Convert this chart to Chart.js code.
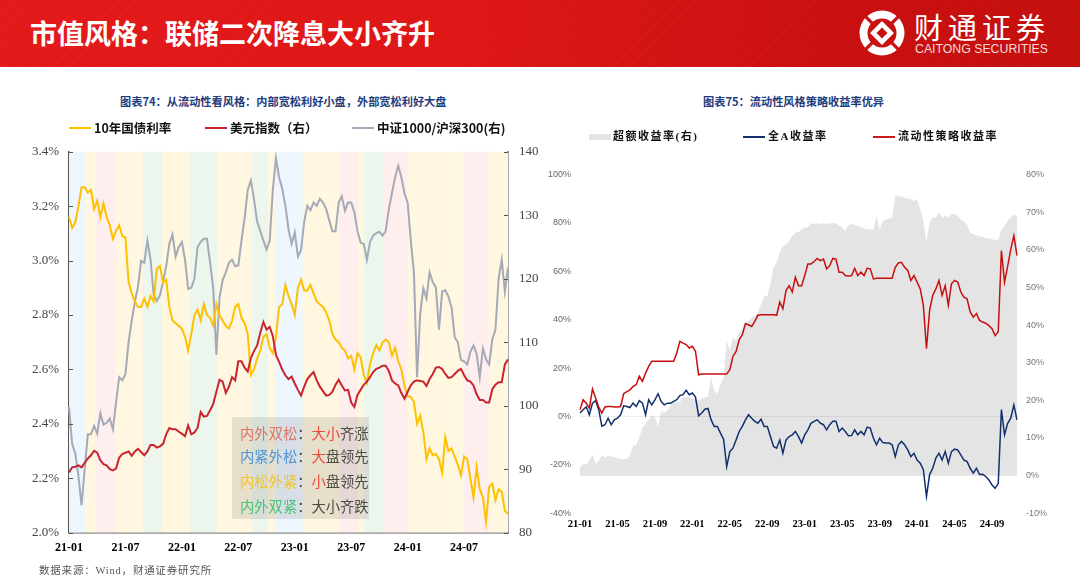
<!DOCTYPE html>
<html>
<head>
<meta charset="utf-8">
<script src="https://cdn.jsdelivr.net/npm/chart.js@4"></script>
<style>
    html, body { margin: 0; padding: 0; background: #fff; }
    body { position: relative; width: 1080px; height: 582px; overflow: hidden; font-family: "Noto Sans CJK SC", sans-serif; }
    canvas { position: absolute; }
    .abs { position: absolute; white-space: nowrap; }
    #header { left: 0; top: 0; width: 1080px; height: 67px; background:
        repeating-linear-gradient(135deg, rgba(255,255,255,.025) 0 1px, transparent 1px 12px),
        linear-gradient(90deg, #e41a1a 0%, #dd1616 45%, #c81010 80%, #c60f0f 100%); }
    #pageTitle { left: 30px; top: 13px; font-size: 27px; line-height: 40px; font-weight: 700; color: #fff; }
    #logoCn { left: 914px; top: 9px; font-size: 29px; line-height: 34px; letter-spacing: 5px; color: #fff; }
    #logoEn { left: 915px; top: 41px; font: 12.3px/17px "Liberation Sans", sans-serif; color: #f5dada; }
    .chartTitle { font-size: 11.2px; line-height: 16px; font-weight: 700; color: #1f3c7c; top: 93px; }
    .lg { font-size: 12.5px; line-height: 18px; font-weight: 700; color: #111; top: 119px; }
    .lgRight { font: 700 11px/16px "Liberation Serif", "Noto Sans CJK SC", serif; letter-spacing: 1.5px; color: #111; top: 128px; }
    .key { height: 2px; }
    #source { left: 39px; top: 563px; font: 10.5px/16px "Liberation Serif", "Noto Sans CJK SC", serif; letter-spacing: .8px; color: #555; }
    #regimeBox { left: 232px; top: 417px; width: 137px; height: 102px; background: rgba(100,100,100,.16); }
    .rg { left: 240px; font-size: 14.3px; line-height: 22px; color: #4d4a40; }
    .rd { color: #f2483a; }
</style>
</head>
<body>
<div id="header" class="abs"></div>
<div id="pageTitle" class="abs">市值风格：联储二次降息大小齐升</div>
<svg class="abs" style="left:858px;top:9px" width="48" height="48" viewBox="-24 -24 48 48">
    <circle r="22.5" fill="#fff"/>
    <circle r="14.5" fill="#ca1111"/>
    <path d="M-24 -24L24 24M24 -24L-24 24" stroke="#ca1111" stroke-width="3.2"/>
    <path d="M0 -12L12 0L0 12L-12 0Z" fill="#fff"/>
    <path d="M0 -5.5L5.5 0L0 5.5L-5.5 0Z" fill="#ca1111"/>
</svg>
<div id="logoCn" class="abs">财通证券</div>
<div id="logoEn" class="abs">CAITONG SECURITIES</div>

<canvas id="leftChart" width="540" height="449" style="left:0;top:133px;width:540px;height:449px"></canvas>
<canvas id="rightChart" width="540" height="400" style="left:540px;top:160px;width:540px;height:400px"></canvas>

<div class="abs chartTitle" style="left:120px">图表74：从流动性看风格：内部宽松利好小盘，外部宽松利好大盘</div>
<div class="abs chartTitle" style="left:703px">图表75：流动性风格策略收益率优异</div>

<div class="abs key" style="left:69px;top:127px;width:22px;background:#ffc000"></div>
<div class="abs lg" style="left:94px">10年国债利率</div>
<div class="abs key" style="left:205px;top:127px;width:22px;background:#c8252f"></div>
<div class="abs lg" style="left:230px">美元指数（右）</div>
<div class="abs key" style="left:352px;top:127px;width:22px;background:#a5a9b8"></div>
<div class="abs lg" style="left:377px">中证1000/沪深300(右)</div>

<div class="abs" style="left:589px;top:134px;width:22px;height:6px;background:#e4e4e4"></div>
<div class="abs lgRight" style="left:613px">超额收益率(右)</div>
<div class="abs key" style="left:743px;top:136px;width:22px;background:#12306e"></div>
<div class="abs lgRight" style="left:768px">全A收益率</div>
<div class="abs key" style="left:873px;top:136px;width:22px;background:#cc1a1a"></div>
<div class="abs lgRight" style="left:898px">流动性策略收益率</div>

<div id="regimeBox" class="abs"></div>
<div class="abs rg" style="top:422px"><span style="color:#db7468">内外双松</span>：<span class="rd">大小</span>齐涨</div>
<div class="abs rg" style="top:445px"><span style="color:#4b93d4">内紧外松</span>：<span class="rd">大</span>盘领先</div>
<div class="abs rg" style="top:470px"><span style="color:#f2c326">内松外紧</span>：<span class="rd">小</span>盘领先</div>
<div class="abs rg" style="top:495px"><span style="color:#47c377">内外双紧</span>：大小齐跌</div>

<div id="source" class="abs">数据来源：Wind，财通证券研究所</div>

<script>
// 3 samples a month, 21-01 .. 24-11
const sampleDates = [];
for (let y = 21; y <= 24; y++) {
    for (let m = 1; m <= (y === 24 ? 11 : 12); m++) {
        const label = y + '-' + String(m).padStart(2, '0');
        sampleDates.push(label, label, label);
    }
}

const yieldRate = [3.16,3.12,3.14,3.20,3.27,3.27,3.25,3.26,3.19,3.22,3.16,3.21,3.16,3.13,3.08,3.11,3.13,3.09,3.085,2.92,2.88,2.85,2.83,2.83,2.86,2.83,2.87,2.85,2.97,2.98,2.92,2.93,2.83,2.78,2.77,2.76,2.75,2.72,2.67,2.73,2.80,2.82,2.78,2.84,2.80,2.79,2.76,2.84,2.80,2.78,2.76,2.75,2.78,2.83,2.84,2.79,2.77,2.73,2.58,2.60,2.64,2.67,2.72,2.73,2.68,2.66,2.72,2.83,2.84,2.91,2.87,2.84,2.80,2.90,2.93,2.89,2.89,2.91,2.88,2.85,2.84,2.83,2.81,2.78,2.73,2.71,2.70,2.68,2.67,2.64,2.65,2.60,2.66,2.645,2.58,2.55,2.62,2.66,2.69,2.67,2.70,2.71,2.70,2.65,2.68,2.63,2.60,2.54,2.50,2.50,2.48,2.40,2.43,2.37,2.27,2.31,2.285,2.29,2.27,2.22,2.35,2.30,2.31,2.28,2.25,2.21,2.28,2.27,2.20,2.13,2.24,2.16,2.13,2.04,2.17,2.18,2.12,2.16,2.15,2.08,2.07];
const dollarIndex = [89.5,90.3,90.4,90.6,90.3,91,91.7,92.2,92.9,92.6,91.4,90.8,90.6,90,89.8,90.1,91.8,92.4,92.6,92.8,92.1,92.8,93.2,92.7,92.2,92.8,93.8,93.8,93.4,93.6,94,95.5,96.5,96.3,96.3,95.9,95.6,95.2,96.9,95.5,95.8,96.5,99,98.3,98.4,99.3,100.3,102.2,104.1,103.8,102,103,104.5,104,107,107,106,105.4,107.5,108.6,109.5,111.5,113.2,112,112.4,111,108,106.9,105.7,104.8,104.2,104.6,103.5,102.5,101.6,103,104.2,104.8,105.3,104,103,102.3,101.6,101.7,102.2,103.3,104.1,103.2,102.4,102.5,100.5,99.8,101.7,102.5,103.3,103.8,104.5,105.3,105.8,106,106.3,106.3,105.5,104,103.5,103.2,102,101.1,102.2,103.2,103.8,104,103.9,103.8,103.1,104.2,105,106,106.1,105.8,105,104.4,104.5,105,105.5,105.8,104.8,104,103.8,103.2,101.8,100.9,100.9,100.5,100.5,102.6,103.3,103.7,103.7,106.5,107.3];
const csi1000Ratio = [99.8,94,92.5,89,84.3,90,95.5,95.5,96.8,95.6,98.8,97,97.3,98,96.3,100.5,104.5,104,105,110,113.4,116.3,118.8,122.8,122.5,126,123,117.5,116.5,117.4,119.5,122,125.5,127,123.5,125,125.8,123,118.4,118.6,120,125,125.8,126.3,126.3,122.5,118.5,108,117,119.8,121,122.5,123,122,122.1,126,129.5,134,135.5,132.5,129,127.5,126,124.6,126,134,139,136,134.2,131.5,127.8,125.5,127.3,123.5,124.5,129,131.5,130.8,132,131.5,132.6,132,131,129.2,127.5,127.5,132,133,130.7,132,132,130.5,127.5,125.7,125.5,123,125.8,126.8,127.2,127.4,126.8,127.5,131,133.5,136,137.8,136,133.4,132,126,121,104.5,114.5,118.5,116.9,121,119.5,118.6,112,118,118.2,117.2,115.5,110.8,110,107.2,107,106.5,108.5,109.5,108.2,104.5,109,107.3,106.5,110.5,112,120,123,118,121.8];

const excessReturn = [2.2,3.1,3.1,4,5.6,3.1,4,5.3,4.9,5.3,5.1,4.9,4.6,4.4,4.4,4.4,5.3,8,8,10.2,12.8,13.7,15,16,15.5,12.8,17.3,16.8,17.3,18.6,19.5,19.5,19.5,20.8,20.8,20.8,20.4,20.4,19.9,20.4,20.8,21,26.1,22.6,21.7,24.3,26,35.8,33.2,36.7,35.8,38,39,41,41,42,42.4,43.3,45.5,47.7,47.7,50.8,55.3,56.6,59.2,61,61.4,62.3,63.7,64.5,64.7,65.4,65.9,65.9,67,66.8,67,66.8,67,66.8,67,67,67,66.3,65.9,65,66.5,66.8,66.6,66.3,65.9,65.6,65.4,65.4,65.3,69,65.3,67.6,68,68.3,68.5,74.3,74.3,74.1,73.8,73.6,73.4,72.9,73.4,70.7,67.6,61.9,67.2,68.5,68.5,70,68.5,69,68.5,69.4,69.4,69,68,67.4,66.5,64.5,64.1,63.8,63.6,63.4,63.1,63,62.8,62.6,62.5,65.4,66.3,67.6,68.5,69.4,68.8];
const allAReturn = [1.4,2.8,4,0.7,5.5,6.5,2.8,-4,-3.4,-0.7,-3.4,-1.4,-0.7,0.7,4.4,4.1,3.7,5.5,4.1,6.5,5.5,0.7,6.9,4.8,6.9,9.4,6.2,4.8,5.5,5.5,6.2,6.9,8.6,9,10.8,9,9.7,8,0.3,1.4,3,3.3,-1.4,-4.1,-4.1,-6.9,-9.4,-20.7,-14.5,-13.1,-9.7,-6.2,-4.1,-1.4,0.7,-0.7,-2,-2.8,-1.1,-4.1,-4.1,-8.3,-12.4,-13.1,-9.7,-15.2,-9.7,-8.3,-7.6,-6.2,-8.3,-11,-7.6,-5.5,-2.8,-2,-1.4,-2.8,-3.4,-5.5,-3.4,-2,-2,-6.2,-4.8,-6.2,-8,-7.9,-5.5,-7.6,-6.2,-7.6,-4.4,-4.8,-9,-11.7,-9,-10.8,-11,-11,-11.7,-16.6,-11.7,-10.3,-11.7,-13.8,-16.6,-15.2,-18,-19.3,-22,-33,-24,-21.4,-17.2,-15.2,-18,-14.5,-19.3,-14.5,-13.5,-13.8,-15.9,-18,-18.6,-21.4,-23.4,-21.4,-24,-23.9,-24.8,-26.2,-28.3,-29.7,-27.6,2.8,-7.6,-2.8,-0.7,4.8,-1.4];
const strategyReturn = [2.8,6.9,5.5,3.4,11.3,7.6,3.9,1.4,3.9,4.1,4.1,3.9,3.9,4.1,9.4,10.3,11,12.4,13.1,16.6,14.5,17.9,20.7,22.8,22.8,22.8,22.8,22.8,22.8,22.8,22.8,26.2,31,30.3,29.7,28.3,29,26.9,17.2,17.5,17.5,17.5,17.5,17.5,17.5,17.5,17.5,17.5,19.3,24.8,26.9,31.7,33.8,38.3,37.9,37.2,39.3,41.8,42,42,42,42,42,41.8,47.3,44.5,52,54,51.4,57.5,54,54,58.2,63,63,64,65.3,64.4,65,61,62.3,65.3,65,59.6,59.6,58.2,58,58.2,61.2,58.2,59.6,58.2,61.2,61,56.8,57.1,57.1,57.1,57.1,57.1,57.1,61.6,63.4,63.7,61.6,60.3,56.2,58.2,55.5,52.7,45.9,28,43.8,50,52.7,56.2,50,54,45.9,54.8,56.2,55.5,51.4,49.3,48.6,43.2,41,42.5,39.7,39,38.5,37.5,36.3,33.4,35,68.5,55.5,62,69,74.7,66.4];

// background regimes, in sample positions
const bandStarts = [0,5.3,8.3,14.7,23.6,29.7,38.6,47.2,58.4,63.5,65.7,74.5,86.1,92.2,93.9,100.4,107.8,125.6,134];
const bandEnds = [5.3,8.3,14.7,23.6,29.7,38.6,47.2,58.4,63.5,65.7,74.5,86.1,92.2,93.9,100.4,107.8,125.6,134,140];
const bandKinds = ['blue','yellow','red','yellow','green','yellow','green','yellow','green','yellow','blue','yellow','red','yellow','green','red','yellow','red','yellow'];
const bandColors = { blue: '#eef6fe', yellow: '#fff7e0', red: '#ffeeee', green: '#edf6ec' };

const leftTickStep = 18;
const rightTickStep = 12;

const bandPlugin = {
    id: 'bands',
    beforeDatasetsDraw(chart) {
        const { ctx, chartArea, scales } = chart;
        ctx.save();
        bandStarts.forEach((start, i) => {
            const x0 = scales.x.getPixelForValue(start);
            const x1 = scales.x.getPixelForValue(bandEnds[i]);
            ctx.fillStyle = bandColors[bandKinds[i]];
            ctx.fillRect(x0, chartArea.top, x1 - x0, chartArea.height);
        });
        ctx.restore();
    }
};

// tick marks point into the plot on the left chart
const innerTickPlugin = {
    id: 'innerTicks',
    afterDraw(chart) {
        const { ctx, chartArea, scales } = chart;
        ctx.save();
        ctx.strokeStyle = '#555';
        ctx.lineWidth = 1;
        scales.y.ticks.forEach(t => {
            const p = Math.round(scales.y.getPixelForValue(t.value)) + .5;
            ctx.beginPath(); ctx.moveTo(chartArea.left, p); ctx.lineTo(chartArea.left + 4, p); ctx.stroke();
        });
        scales.y2.ticks.forEach(t => {
            const p = Math.round(scales.y2.getPixelForValue(t.value)) + .5;
            ctx.beginPath(); ctx.moveTo(chartArea.right, p); ctx.lineTo(chartArea.right - 4, p); ctx.stroke();
        });
        ctx.restore();
    }
};

function lineSet(label, data, color, width, axis, order) {
    return { label, data, borderColor: color, borderWidth: width, pointRadius: 0, tension: 0, yAxisID: axis, order, fill: false };
}

function xAxis(step, font, padding, height) {
    return {
        type: 'category',
        offset: false,
        grid: { display: false, drawTicks: false },
        afterBuildTicks: s => { s.ticks = s.ticks.filter(t => t.value % step === 0); },
        afterFit: s => { s.height = height; },
        ticks: {
            autoSkip: false, maxRotation: 0, color: '#000', font, padding,
            callback(value) { return sampleDates[value]; }
        }
    };
}

new Chart(document.getElementById('leftChart').getContext('2d'), {
    type: 'line',
    plugins: [bandPlugin, innerTickPlugin],
    data: {
        labels: sampleDates,
        datasets: [
            lineSet('中证1000/沪深300(右)', csi1000Ratio, '#a5a9b8', 2, 'y2', 3),
            lineSet('10年国债利率', yieldRate, '#ffc000', 2, 'y', 2),
            lineSet('美元指数（右）', dollarIndex, '#c8252f', 2, 'y2', 1)
        ]
    },
    options: {
        responsive: false,
        animation: false,
        devicePixelRatio: 1,
        layout: { padding: 0 },
        plugins: { legend: { display: false }, title: { display: false }, tooltip: { enabled: false } },
        scales: {
            x: Object.assign(xAxis(leftTickStep, { family: 'Liberation Serif', size: 12, weight: 'bold' }, 8, 49.3), {
                border: { color: '#555', width: 1.5 }
            }),
            y: {
                position: 'left', min: 2.0, max: 3.4,
                border: { color: '#555', width: 1.5 },
                grid: { display: false, drawTicks: false },
                afterFit: s => { s.width = 69; },
                ticks: {
                    stepSize: 0.2, padding: 10, color: '#444',
                    font: { family: 'Liberation Serif', size: 13 },
                    callback: v => v.toFixed(1) + '%'
                }
            },
            y2: {
                position: 'right', min: 80, max: 140,
                border: { color: '#555', width: 1.5 },
                grid: { display: false, drawTicks: false },
                afterFit: s => { s.width = 32; },
                ticks: {
                    stepSize: 10, padding: 11, color: '#444',
                    font: { family: 'Liberation Serif', size: 13 }
                }
            }
        }
    }
});

new Chart(document.getElementById('rightChart').getContext('2d'), {
    type: 'line',
    data: {
        labels: sampleDates,
        datasets: [
            { label: '超额收益率(右)', data: excessReturn, borderWidth: 0, borderColor: '#e4e4e4', backgroundColor: '#e4e4e4',
              pointRadius: 0, tension: 0, yAxisID: 'y2', order: 3, fill: { value: 0 } },
            lineSet('全A收益率', allAReturn, '#12306e', 1.5, 'y', 2),
            lineSet('流动性策略收益率', strategyReturn, '#c80f0f', 1.5, 'y', 1)
        ]
    },
    options: {
        responsive: false,
        animation: false,
        devicePixelRatio: 1,
        layout: { padding: { top: 13.5, left: 0, right: 0, bottom: 0 } },
        plugins: { legend: { display: false }, title: { display: false }, tooltip: { enabled: false } },
        scales: {
            x: Object.assign(xAxis(rightTickStep, { family: 'Liberation Serif', size: 10.5, weight: 'bold' }, 5, 46.7), {
                border: { display: false }
            }),
            y: {
                position: 'left', min: -40, max: 100,
                border: { display: false },
                grid: {
                    drawTicks: false, z: 1,
                    color: ctx => ctx.tick && ctx.tick.value === 0 ? 'rgba(0,0,0,.07)' : 'rgba(0,0,0,0)'
                },
                afterFit: s => { s.width = 40; },
                ticks: {
                    stepSize: 20, padding: 9, color: '#666',
                    font: { family: 'Liberation Sans', size: 9 },
                    callback: v => v + '%'
                }
            },
            y2: {
                position: 'right', min: -10, max: 80,
                border: { display: false },
                grid: { display: false, drawTicks: false },
                afterFit: s => { s.width = 63; },
                ticks: {
                    stepSize: 10, padding: 9, color: '#777',
                    font: { family: 'Liberation Sans', size: 9 },
                    callback: v => v + '%'
                }
            }
        }
    }
});
</script>
</body>
</html>
